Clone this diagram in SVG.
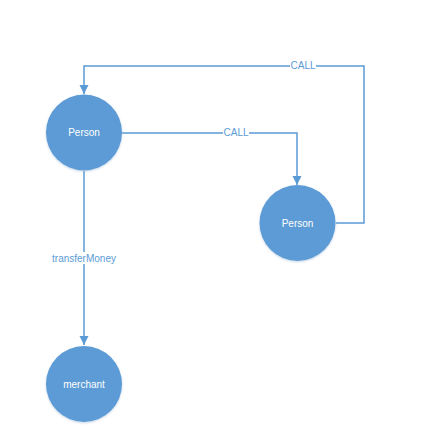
<svg xmlns="http://www.w3.org/2000/svg" width="442" height="442" viewBox="0 0 442 442">
<style>
.node circle{fill:#5B9BD5;filter:url(#sh)}
.node text{fill:#fff;font-family:"Liberation Sans",Arial,sans-serif;font-size:10px;text-anchor:middle;dominant-baseline:central}
.edge{fill:none;stroke:#5B9BD5;stroke-width:1.5}
.lbl{fill:#5B9BD5;font-family:"Liberation Sans",Arial,sans-serif;font-size:10px;text-anchor:middle;dominant-baseline:central}
.bg{fill:#fff}
</style>
<defs>
<marker id="ah" viewBox="0 0 10 10" refX="10" refY="5" markerWidth="6" markerHeight="7" markerUnits="strokeWidth" orient="auto">
<path d="M0,0 L10,5 L0,10 z" fill="#5B9BD5"/>
</marker>
<filter id="sh" x="-20%" y="-20%" width="140%" height="140%">
<feGaussianBlur in="SourceAlpha" stdDeviation="1.2"/>
<feOffset dy="1" result="b"/>
<feFlood flood-color="#9DB9D8" flood-opacity="0.6"/>
<feComposite in2="b" operator="in"/>
<feMerge><feMergeNode/><feMergeNode in="SourceGraphic"/></feMerge>
</filter>
</defs>
<rect width="442" height="442" fill="#fff"/>
<g id="connectors">
<path class="edge" d="M336,223 H364 V66 H84 V94" marker-end="url(#ah)"/>
<rect class="bg" x="290" y="60" width="26" height="11"/>
<text class="lbl" x="303" y="65.5">CALL</text>
<path class="edge" d="M122,133 H297 V185" marker-end="url(#ah)"/>
<rect class="bg" x="223" y="127" width="26" height="11"/>
<text class="lbl" x="236" y="132.5">CALL</text>
<path class="edge" d="M84,171 V345" marker-end="url(#ah)"/>
<rect class="bg" x="50" y="252" width="68" height="12"/>
<text class="lbl" x="84" y="258">transferMoney</text>
</g>
<g id="person1" class="node"><circle cx="84" cy="132.5" r="38"/><text x="84" y="132.5">Person</text></g>
<g id="person2" class="node"><circle cx="297.5" cy="223" r="38"/><text x="297.5" y="223">Person</text></g>
<g id="merchant" class="node"><circle cx="84" cy="384" r="38"/><text x="84" y="384">merchant</text></g>
</svg>
